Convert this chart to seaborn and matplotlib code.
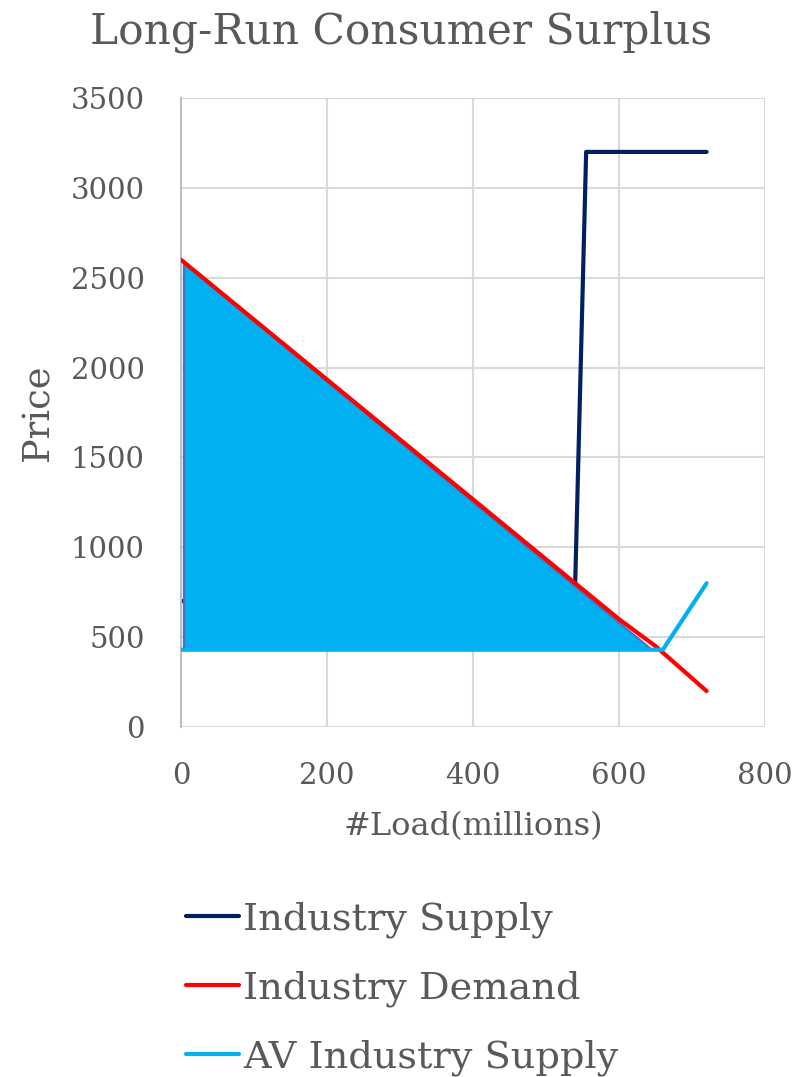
import pandas as pd
import seaborn as sns
import matplotlib.pyplot as plt

# Data
supply_x = [0, 540, 555, 720]
supply_y = [700, 800, 3200, 3200]

demand_x = [0, 600, 650, 720]
demand_y = [2600, 600, 450, 200]

av_x = [0, 660, 720]
av_y = [430, 430, 800]

# consumer surplus area
cs_x = [4, 4, 645]
cs_y = [430, 2580, 430]

sns.set_theme(style="white")
plt.rcParams['font.family'] = ['DejaVu Serif']
grey = '#595959'

fig = plt.figure(figsize=(8.03, 10.77), dpi=100)
ax = fig.add_axes([181 / 803, 1 - 727 / 1077, 584 / 803, 629 / 1077])

ax.fill(cs_x, cs_y, facecolor='#00B0F0', edgecolor='#4472C4', linewidth=1.5, zorder=2)

df_s = pd.DataFrame({'x': supply_x, 'y': supply_y})
df_d = pd.DataFrame({'x': demand_x, 'y': demand_y})
df_a = pd.DataFrame({'x': av_x, 'y': av_y})

sns.lineplot(data=df_s, x='x', y='y', ax=ax, color='#002060', linewidth=3,
             estimator=None, sort=False, label='Industry Supply', zorder=1,
             solid_capstyle='round', solid_joinstyle='round')
sns.lineplot(data=df_d, x='x', y='y', ax=ax, color='#FF0000', linewidth=3,
             estimator=None, sort=False, label='Industry Demand', zorder=3,
             solid_capstyle='round', solid_joinstyle='round')
sns.lineplot(data=df_a, x='x', y='y', ax=ax, color='#00B0F0', linewidth=3,
             estimator=None, sort=False, label='AV Industry Supply', zorder=3,
             solid_capstyle='round', solid_joinstyle='round')

ax.set_xlim(0, 800)
ax.set_ylim(0, 3500)
ax.set_xticks(range(0, 801, 200))
ax.set_yticks(range(0, 3501, 500))
ax.grid(True, color='#D9D9D9', linewidth=1.5)
ax.set_axisbelow(True)
for side in ['top', 'right', 'bottom']:
    ax.spines[side].set_visible(False)
ax.spines['left'].set_color('#BFBFBF')
ax.spines['left'].set_linewidth(1.5)
ax.tick_params(axis='y', labelsize=21, colors=grey, length=0, pad=26)
ax.tick_params(axis='x', labelsize=21, colors=grey, length=0, pad=25)

ax.set_xlabel('#Load(millions)', fontsize=23, color=grey, labelpad=15)
ax.set_ylabel('Price', fontsize=26.5, color=grey, labelpad=10)
fig.suptitle('Long-Run Consumer Surplus', fontsize=30.5, color=grey, y=0.99)

leg = ax.legend(loc='upper left', bbox_to_anchor=(-0.018, -0.253), frameon=False,
                fontsize=27.5, labelcolor=grey, handlelength=1.4, handletextpad=0.1,
                labelspacing=0.85, borderaxespad=0)

fig.savefig('out.png', dpi=100)
